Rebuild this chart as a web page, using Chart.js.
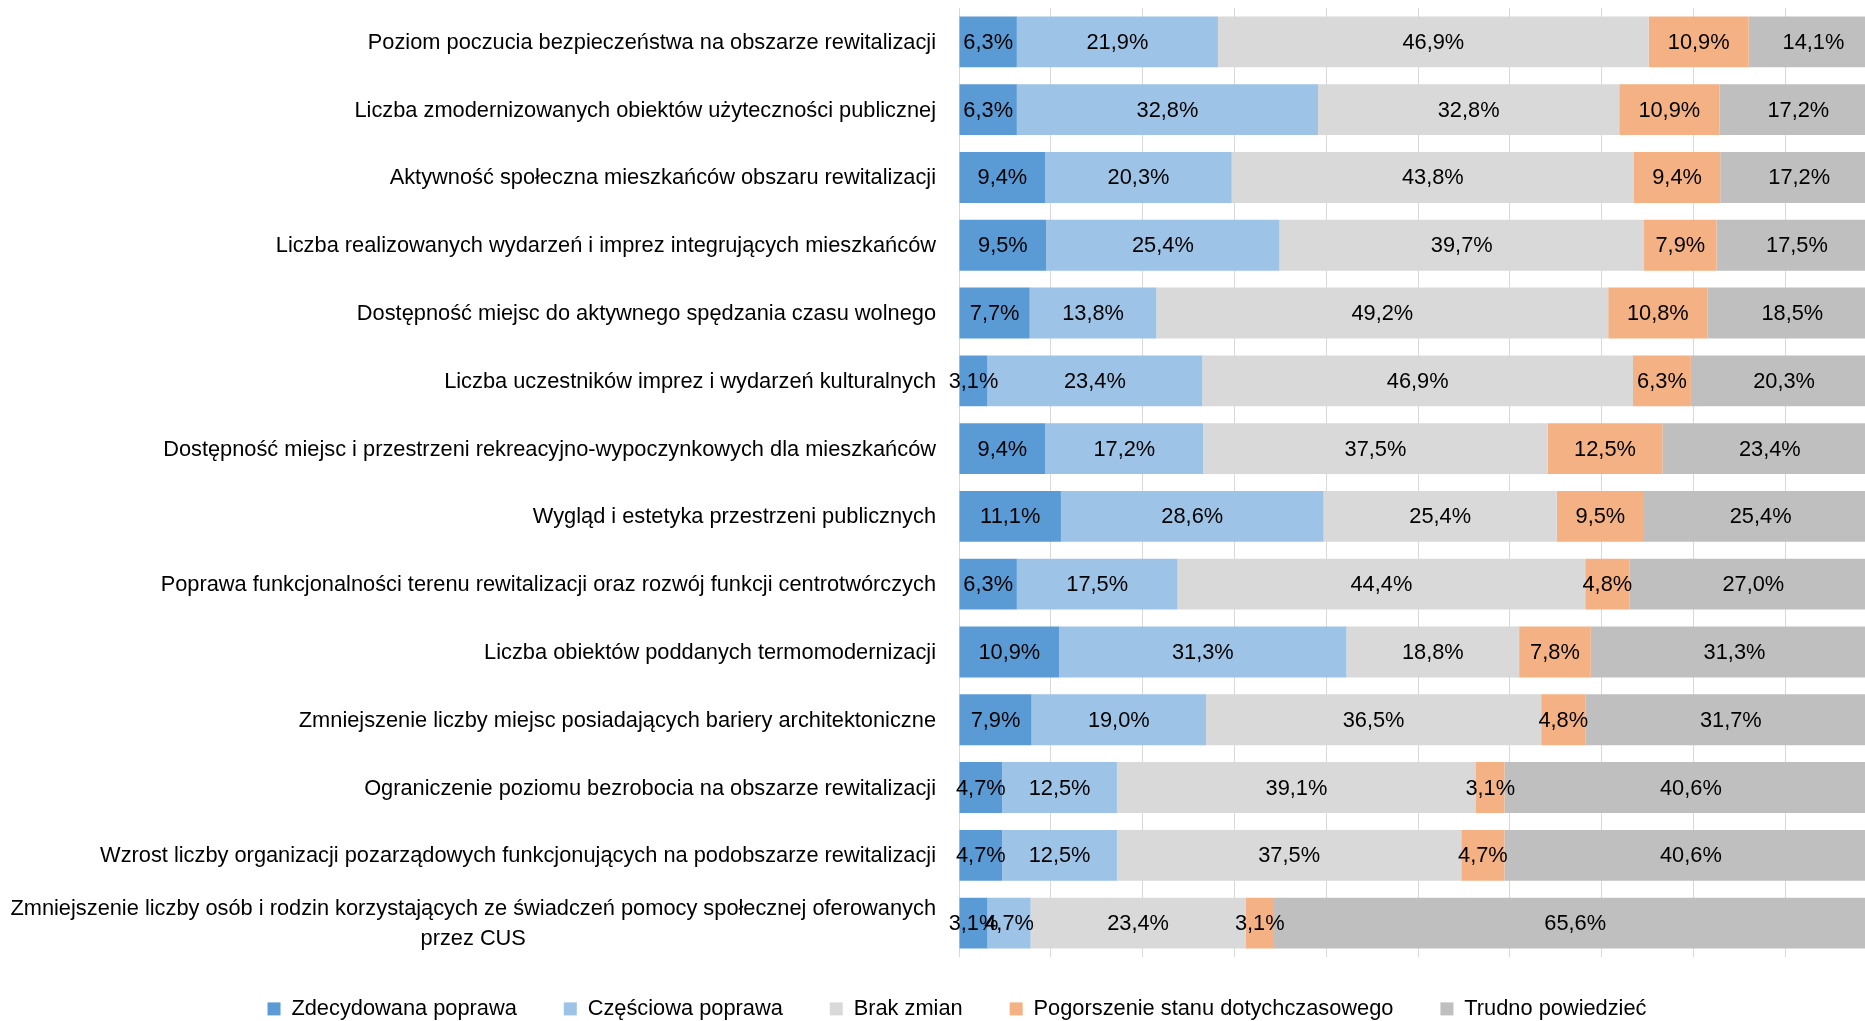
<!DOCTYPE html>
<html>
<head>
<meta charset="utf-8">
<script src="https://cdn.jsdelivr.net/npm/chart.js@4/dist/chart.umd.min.js"></script>
<style>
html,body{margin:0;padding:0;overflow:hidden;background:#fff;width:1865px;height:1021px}
#wrap{width:1865px;height:1021px;overflow:hidden;position:relative}
#c{position:absolute;left:0;top:0}
</style>
</head>
<body>
<div id="wrap"><canvas id="c" width="1914" height="1021"></canvas></div>
<script>
const categories = [
  "Poziom poczucia bezpieczeństwa na obszarze rewitalizacji",
  "Liczba zmodernizowanych obiektów użyteczności publicznej",
  "Aktywność społeczna mieszkańców obszaru rewitalizacji",
  "Liczba realizowanych wydarzeń i imprez integrujących mieszkańców",
  "Dostępność miejsc do aktywnego spędzania czasu wolnego",
  "Liczba uczestników imprez i wydarzeń kulturalnych",
  "Dostępność miejsc i przestrzeni rekreacyjno-wypoczynkowych dla mieszkańców",
  "Wygląd i estetyka przestrzeni publicznych",
  "Poprawa funkcjonalności terenu rewitalizacji oraz rozwój funkcji centrotwórczych",
  "Liczba obiektów poddanych termomodernizacji",
  "Zmniejszenie liczby miejsc posiadających bariery architektoniczne",
  "Ograniczenie poziomu bezrobocia na obszarze rewitalizacji",
  "Wzrost liczby organizacji pozarządowych funkcjonujących na podobszarze rewitalizacji",
  ["Zmniejszenie liczby osób i rodzin korzystających ze świadczeń pomocy społecznej oferowanych", "przez CUS"]
];
const seriesNames = ["Zdecydowana poprawa", "Częściowa poprawa", "Brak zmian", "Pogorszenie stanu dotychczasowego", "Trudno powiedzieć"];
const zdecydowana = [6.3, 6.3, 9.4, 9.5, 7.7, 3.1, 9.4, 11.1, 6.3, 10.9, 7.9, 4.7, 4.7, 3.1];
const czesciowa   = [21.9, 32.8, 20.3, 25.4, 13.8, 23.4, 17.2, 28.6, 17.5, 31.3, 19.0, 12.5, 12.5, 4.7];
const brakZmian   = [46.9, 32.8, 43.8, 39.7, 49.2, 46.9, 37.5, 25.4, 44.4, 18.8, 36.5, 39.1, 37.5, 23.4];
const pogorszenie = [10.9, 10.9, 9.4, 7.9, 10.8, 6.3, 12.5, 9.5, 4.8, 7.8, 4.8, 3.1, 4.7, 3.1];
const trudno      = [14.1, 17.2, 17.2, 17.5, 18.5, 20.3, 23.4, 25.4, 27.0, 31.3, 31.7, 40.6, 40.6, 65.6];
const xTickValues = [0, 10, 20, 30, 40, 50, 60, 70, 80, 90, 100];

const colors = ["#5B9BD5", "#9DC3E6", "#D9D9D9", "#F4B183", "#BFBFBF"];
const seriesValues = [zdecydowana, czesciowa, brakZmian, pogorszenie, trudno];
const FONT = '"Liberation Sans", Arial, sans-serif';
const FS = 21.8;

Chart.defaults.font.family = FONT;
Chart.defaults.font.size = FS;
Chart.defaults.color = "#000";

const fmt = v => v.toFixed(1).replace(".", ",") + "%";

const dataLabelPlugin = {
  id: "dataLabels",
  afterDatasetsDraw(chart) {
    const ctx = chart.ctx;
    ctx.save();
    ctx.font = FS + "px " + FONT;
    ctx.fillStyle = "#000";
    ctx.textAlign = "center";
    ctx.textBaseline = "middle";
    chart.data.datasets.forEach((ds, di) => {
      const meta = chart.getDatasetMeta(di);
      meta.data.forEach((bar, i) => {
        const cx = (bar.x + bar.base) / 2;
        ctx.fillText(fmt(ds.data[i]), cx, bar.y + 1);
      });
    });
    ctx.restore();
  }
};

const yLabelPlugin = {
  id: "yLabels",
  afterDraw(chart) {
    const ctx = chart.ctx;
    const ys = chart.scales.y;
    const xr = chart.chartArea.left - 23;
    ctx.save();
    ctx.font = FS + "px " + FONT;
    ctx.fillStyle = "#000";
    ctx.textBaseline = "middle";
    categories.forEach((lab, i) => {
      const y = ys.getPixelForValue(i) + 1;
      if (Array.isArray(lab)) {
        const w = ctx.measureText(lab[0]).width;
        const cx = xr - w / 2;
        const lh = 29.5;
        ctx.textAlign = "center";
        lab.forEach((line, k) => {
          ctx.fillText(line, cx, y + (k - (lab.length - 1) / 2) * lh);
        });
      } else {
        ctx.textAlign = "right";
        ctx.fillText(lab, xr, y);
      }
    });
    ctx.restore();
  }
};

const legendShift = {
  id: "legendShift",
  afterLayout(chart) {
    if (chart.legend) {
      chart.legend.top = 951;
      chart.legend.bottom = 1021;
      chart.legend.height = 1021 - 951;
    }
  }
};

new Chart(document.getElementById("c"), {
  type: "bar",
  data: {
    labels: categories,
    datasets: seriesNames.map((name, i) => ({
      label: name,
      data: seriesValues[i],
      backgroundColor: colors[i],
      borderWidth: 0,
      barPercentage: 0.75,
      categoryPercentage: 1.0
    }))
  },
  options: {
    indexAxis: "y",
    responsive: false,
    animation: false,
    devicePixelRatio: 1,
    layout: { padding: { top: 8, left: 0, right: 0, bottom: 0 } },
    scales: {
      x: {
        stacked: true,
        min: 0,
        max: 104,
        afterBuildTicks(scale) { scale.ticks = xTickValues.map(v => ({ value: v })); },
        ticks: { display: false },
        grid: { color: "#D9D9D9", lineWidth: 1, drawTicks: false },
        border: { display: false }
      },
      y: {
        stacked: true,
        ticks: { display: false },
        grid: { display: false, drawTicks: false },
        border: { display: false },
        afterFit(scale) { scale.width = 959; }
      }
    },
    plugins: {
      legend: {
        position: "bottom",
        align: "center",
        maxHeight: 64,
        labels: {
          boxWidth: 13,
          boxHeight: 13,
          padding: 47,
          color: "#000",
          font: { size: FS, family: FONT }
        }
      },
      tooltip: { enabled: false }
    }
  },
  plugins: [dataLabelPlugin, yLabelPlugin, legendShift]
});
</script>
</body>
</html>
